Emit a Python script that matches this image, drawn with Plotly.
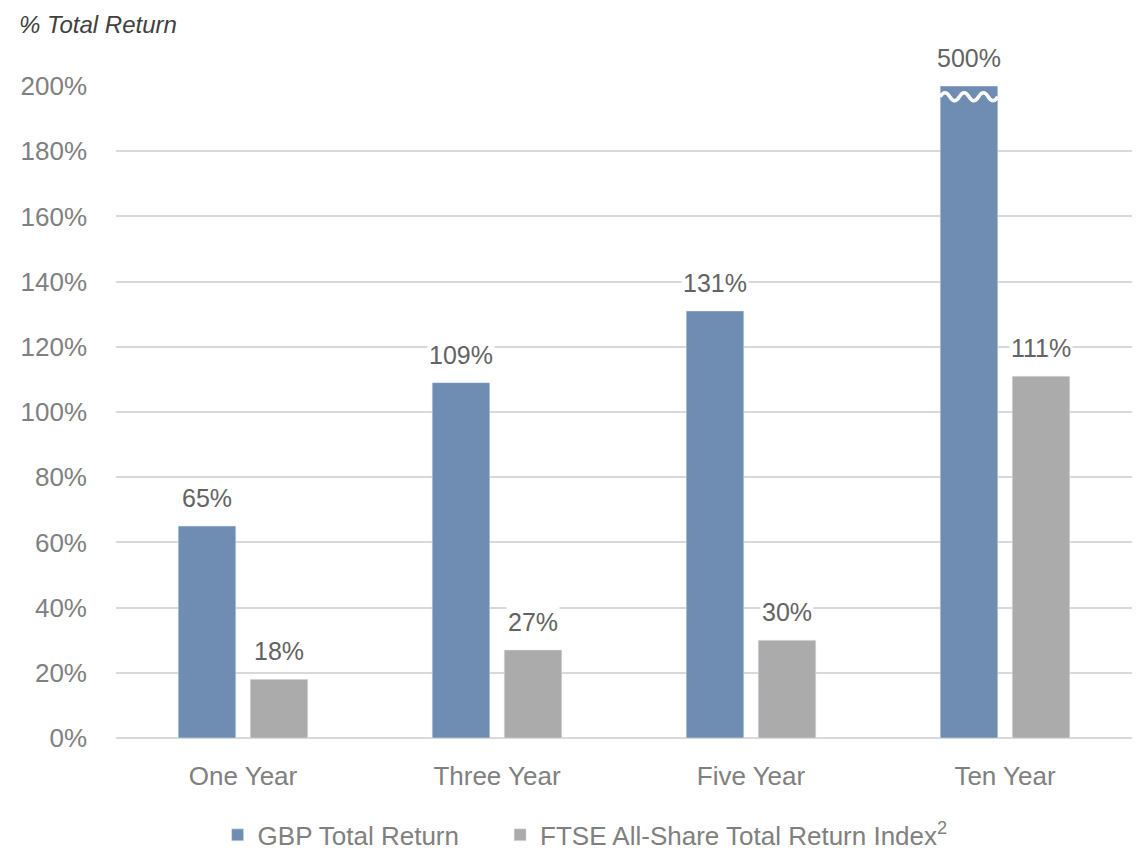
import plotly.graph_objects as go

categories = ["One Year", "Three Year", "Five Year", "Ten Year"]
gbp_values = [65, 109, 131, 500]
ftse_values = [18, 27, 30, 111]
series_names = ["GBP Total Return", "FTSE All-Share Total Return Index<sup>2</sup>"]
tick_vals = list(range(0, 201, 20))
tick_text = [f"{v}%" for v in tick_vals]

Y_MAX = 200
GBP_COLOR = "#6F8DB3"
FTSE_COLOR = "#ABABAB"
FONT = "Liberation Sans, Arial, sans-serif"
BARGAP = 0.433
GROUPGAP = 0.2
NBSP_PAD = "\u00a0" * 5

fig = go.Figure()
fig.add_trace(go.Bar(x=categories, y=[min(v, Y_MAX) for v in gbp_values],
                     name=series_names[0] + NBSP_PAD,
                     marker_color=GBP_COLOR, hoverinfo="skip"))
fig.add_trace(go.Bar(x=categories, y=[min(v, Y_MAX) for v in ftse_values], name=series_names[1],
                     marker_color=FTSE_COLOR, hoverinfo="skip"))

slot = (1 - BARGAP) / 2
offsets = [-slot / 2, slot / 2]
annotations = []
for si, vals in enumerate([gbp_values, ftse_values]):
    for ci, v in enumerate(vals):
        annotations.append(dict(
            x=ci + offsets[si], y=min(v, Y_MAX), xref="x", yref="y",
            text=f"{v}%", showarrow=False, yanchor="bottom", yshift=12,
            font=dict(family=FONT, size=25, color="#636363"), bgcolor="white",
        ))

# break marker on clipped bars
shapes = []
half_w = slot * (1 - GROUPGAP) / 2
for ci, v in enumerate(gbp_values):
    if v > Y_MAX:
        xc = ci + offsets[0]
        x0, x1 = xc - half_w, xc + half_w
        yb = Y_MAX - 3.3
        n = 3
        step = (x1 - x0) / (2 * n)
        path = f"M {x0},{yb}"
        for k in range(2 * n):
            xm = x0 + step * (k + 0.5)
            ym = yb + (2.4 if k % 2 == 0 else -2.4)
            xe = x0 + step * (k + 1)
            path += f" Q {xm},{ym} {xe},{yb}"
        shapes.append(dict(type="path", path=path, xref="x", yref="y",
                           line=dict(color="white", width=3.5)))

annotations.append(dict(x=-0.0974, xref="paper", y=1.095, yref="paper", xanchor="left",
                        yanchor="middle", showarrow=False, text="<i>% Total Return</i>",
                        font=dict(family=FONT, size=24, color="#404040")))

fig.update_layout(
    width=1139, height=852,
    margin=dict(l=116, r=7, t=86, b=114, autoexpand=False),
    paper_bgcolor="white", plot_bgcolor="white",
    barmode="group", bargap=BARGAP, bargroupgap=GROUPGAP,
    font=dict(family=FONT, color="#808080", size=26),
    xaxis=dict(showgrid=False, showline=False, ticks="", tickfont=dict(size=26, color="#808080"),
               ticklabelstandoff=20, automargin=False, fixedrange=True),
    yaxis=dict(range=[0, Y_MAX], tickvals=tick_vals, ticktext=tick_text, showgrid=True,
               gridcolor="#D9D9D9", gridwidth=1.5, zeroline=True, zerolinecolor="#D9D9D9",
               zerolinewidth=2, ticks="", tickfont=dict(size=26, color="#808080"),
               ticklabelstandoff=28, automargin=False, fixedrange=True),
    legend=dict(orientation="h", x=0.1, xanchor="left", yref="container", y=0.02,
                yanchor="middle", font=dict(size=26, color="#808080"), itemwidth=30,
                traceorder="normal"),
    showlegend=True,
    annotations=annotations, shapes=shapes,
)

fig.write_html("out.html", config={"displayModeBar": False},
               post_script="document.body.style.margin='0';document.body.style.overflow='hidden';")
